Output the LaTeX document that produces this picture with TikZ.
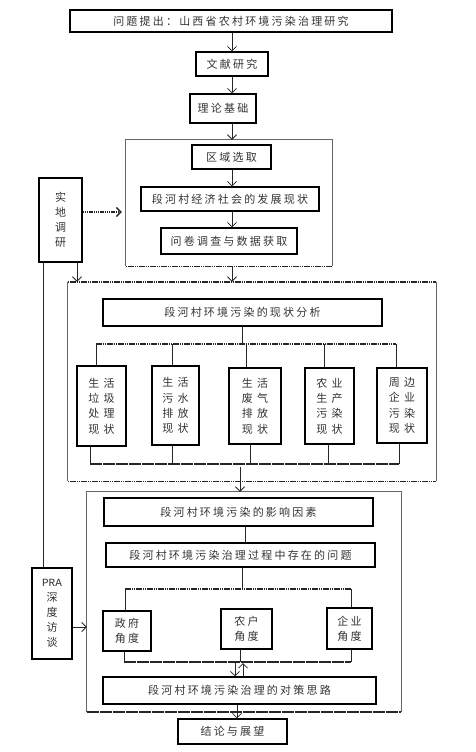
\documentclass[tikz,border=0pt]{standalone}
\usepackage{fontspec}
\newfontfamily\cjk[LetterSpace=20]{Noto Sans CJK SC}
\newfontfamily\cjkwide[LetterSpace=38]{Noto Sans CJK SC}
\newfontfamily\pramono{Liberation Mono}
\usetikzlibrary{arrows.meta}

\begin{document}
\begin{tikzpicture}[x=1pt, y=-1pt,
  box/.style={draw, line width=1.1pt, inner sep=0pt, text=black!80,
    font=\cjk\fontsize{11}{15}\selectfont, align=center},
  tallbox/.style={box, font=\cjkwide\fontsize{11}{15.3}\selectfont},
  group/.style={draw=black!60, line width=0.7pt},
  link/.style={line width=0.8pt, black!85},
  arr/.style={link, -{Straight Barb[length=4.5pt, width=9pt]}},
  bus/.style={line width=1.4pt, black!85, dash pattern=on 1.6pt off 0.6pt},
  base/.style={line width=1.6pt, black!85, dash pattern=on 12pt off 1pt}]
  \useasboundingbox (0,0) rectangle (475,752);

  \node[inner sep=0pt, minimum width=206, minimum height=126] (g1) at (229,203) {};
  \node[inner sep=0pt, minimum width=368, minimum height=199] (g2) at (252,381.5) {};
  \node[inner sep=0pt, minimum width=314, minimum height=220] (g3) at (244,602) {};
  \draw[group] (g1.south west) -- (g1.north west) -- (g1.north east) -- (g1.south east);
  \draw[bus] (g1.south west) -- (g1.south east);
  \draw[group] (g2.south west) -- (g2.north west) (g2.north east) -- (g2.south east);
  \draw[bus] (g2.north west) -- (g2.north east);
  \draw[bus] (g2.south west) -- (g2.south east);
  \draw[group] (g3.south west) -- (g3.north west) -- (g3.north east) -- (g3.south east);
  \draw[base] (g3.south west) -- (g3.south east);

  \node[box, minimum width=322, minimum height=22] (top) at (231,21) {问题提出：山西省农村环境污染治理研究};
  \node[box, minimum width=72, minimum height=24] (wenxian) at (232,64) {文献研究};
  \node[box, minimum width=66, minimum height=29] (lilun) at (223,108.5) {理论基础};
  \node[box, minimum width=79, minimum height=24] (quyu) at (231.5,157) {区域选取};
  \node[box, minimum width=178, minimum height=24] (jingji) at (230,199) {段河村经济社会的发展现状};
  \node[box, minimum width=136, minimum height=26] (wenjuan) at (229,241) {问卷调查与数据获取};
  \node[box, minimum width=43, minimum height=84] (shidi) at (60.5,220) {实\\地\\调\\研};

  \node[box, minimum width=279, minimum height=27] (xianzhuang) at (242.5,312.5) {段河村环境污染的现状分析};
  \node[tallbox, minimum width=49, minimum height=80] (b1) at (101.5,406) {生活\\垃圾\\处理\\现状};
  \node[tallbox, minimum width=47, minimum height=79] (b2) at (175.5,405.5) {生活\\污水\\排放\\现状};
  \node[tallbox, minimum width=52, minimum height=76] (b3) at (255,406) {生活\\废气\\排放\\现状};
  \node[tallbox, minimum width=49, minimum height=76] (b4) at (329.5,406) {农业\\生产\\污染\\现状};
  \node[tallbox, minimum width=50, minimum height=75] (b5) at (402,405.5) {周边\\企业\\污染\\现状};

  \node[box, minimum width=269, minimum height=28] (yingxiang) at (238.5,512) {段河村环境污染的影响因素};
  \node[box, minimum width=269, minimum height=24] (wenti) at (240.5,555) {段河村环境污染治理过程中存在的问题};
  \node[box, minimum width=48, minimum height=40] (zhengfu) at (127,631) {政府\\角度};
  \node[box, minimum width=51, minimum height=40] (nonghu) at (246.5,629) {农户\\角度};
  \node[box, minimum width=45, minimum height=41] (qiye) at (349.5,628.5) {企业\\角度};
  \node[box, minimum width=273, minimum height=27] (duice) at (239.5,690.5) {段河村环境污染治理的对策思路};
  \node[box, minimum width=109, minimum height=25] (jielun) at (232.5,731.5) {结论与展望};
  \node[box, minimum width=40, minimum height=91] (pra) at (52,613.5) {{\pramono PRA}\\深\\度\\访\\谈};

  \draw[arr] (top.south -| 232,0) -- (wenxian.north -| 232,0);
  \draw[arr] (wenxian.south -| 232,0) -- (lilun.north -| 232,0);
  \draw[arr] (lilun.south -| 232,0) -- (g1.north -| 232,0);
  \draw[arr] (quyu.south -| 232,0) -- (jingji.north -| 232,0);
  \draw[arr] (jingji.south -| 232,0) -- (wenjuan.north -| 232,0);
  \draw[arr] (g1.south -| 232,0) -- (g2.north -| 232,0);

  \draw[arr, line width=1.3pt, dash pattern=on 1.5pt off 0.7pt, shorten >=4pt]
    (shidi.east |- 0,212) -- (g1.west |- 0,212);
  \draw[arr] (shidi.south -| 77,0) -- (g2.north -| 77,0);
  \draw[link] (shidi.south -| 43,0) -- (pra.north -| 43,0);
  \draw[arr] (pra.east |- 0,627) -- (g3.west |- 0,627);

  \draw[link] (xianzhuang.south -| 242,0) -- (242,344);
  \draw[bus] (96,344) -- (396,344);
  \foreach \n/\x in {b1/96, b2/172, b3/246, b4/324, b5/396}
    \draw[link] (\x,344) -- (\n.north -| \x,0);
  \foreach \n/\x in {b1/90, b2/172, b3/250, b4/328, b5/399}
    \draw[link] (\n.south -| \x,0) -- (\x,464);
  \draw[base] (90,464) -- (399,464);
  \draw[arr] (240,467) -- (g3.north -| 240,0);

  \draw[link] (yingxiang.south -| 245,0) -- (wenti.north -| 245,0);
  \draw[link] (wenti.south -| 242,0) -- (242,589);
  \draw[bus] (125,589) -- (351,589);
  \draw[link] (125,589) -- (zhengfu.north -| 125,0);
  \draw[link] (351,589) -- (qiye.north -| 351,0);
  \draw[link] (zhengfu.south -| 124,0) -- (124,662);
  \draw[link] (qiye.south -| 351,0) -- (351,662);
  \draw[link] (nonghu.south -| 240,0) -- (240,662);
  \draw[base] (124,662) -- (351,662);
  \draw[arr] (235,662) -- (duice.north -| 235,0);
  \draw[arr] (duice.north -| 243,0) -- (243,663);
  \draw[arr] (duice.south -| 237,0) -- (jielun.north -| 237,0);
\end{tikzpicture}
\end{document}
